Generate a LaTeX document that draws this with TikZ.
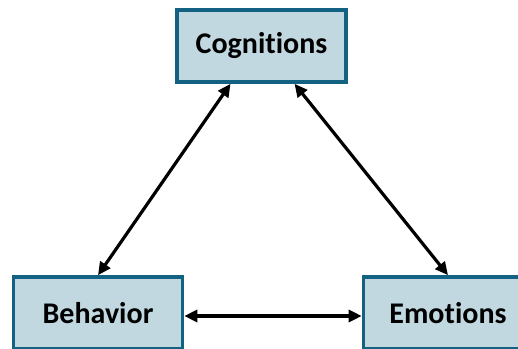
\documentclass[tikz,border=0pt]{standalone}
\usepackage{fontspec}
\setmainfont[Ligatures=NoCommon]{Carlito}
\usepackage{xcolor}
\definecolor{colorBoxFill}{RGB}{193,216,225}
\definecolor{colorBoxBorder}{RGB}{20,98,130}
\usepackage{tikz}
\usetikzlibrary{arrows.meta, positioning}
\tikzset{box/.style={draw=colorBoxBorder, fill=colorBoxFill, line width=3.6pt, minimum width=169pt, minimum height=72pt, font=\fontsize{30}{33}\selectfont\bfseries}}

\begin{document}
\begin{tikzpicture}[x=1pt, y=1pt, <->, >={Triangle[length=13pt, width=12pt]}, line width=3.2pt]
\useasboundingbox (0,0) rectangle (518,348);
\clip (0,0) rectangle (518,348);
\node[box] (cog) at (261.5,302) {Cognitions};
\node[box] (beh) at (98,35) {Behavior};
\node[box] (emo) at (448,35) {Emotions};
\draw (beh.north) -- ([xshift=-31pt]cog.south);
\draw (emo.north) -- ([xshift=33pt]cog.south);
\draw ([yshift=-3pt]beh.east) -- ([yshift=-3pt]emo.west);
\end{tikzpicture}
\end{document}
